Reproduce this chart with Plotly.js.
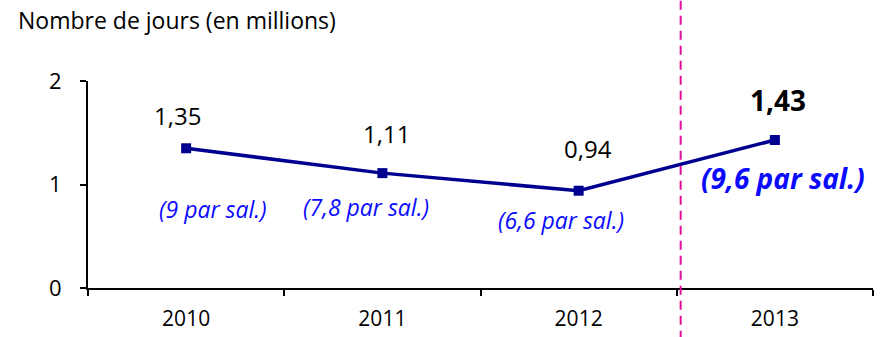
<!DOCTYPE html>
<html>
<head>
<meta charset="utf-8">
<script src="https://cdn.plot.ly/plotly-3.0.1.min.js"></script>
<style>html,body{margin:0;padding:0;background:#fff}#chart{width:883px;height:337px}</style>
</head>
<body>
<div id="chart"></div>
<script>
var years = ['2010', '2011', '2012', '2013'];
var jours = [1.35, 1.11, 0.94, 1.43];
var valueLabels = ['1,35', '1,11', '0,94', '1,43'];
var perSalLabels = ['(9 par sal.)', '(7,8 par sal.)', '(6,6 par sal.)', '(9,6 par sal.)'];
var yTicks = [0, 1, 2];
var titleText = 'Nombre de jours (en millions)';

var FONT = 'Open Sans, sans-serif';
var valShift = [[-9, 33], [4, 40], [9, 42], [3, 40]];
var salShift = [[27, -61], [-16, -34], [-18, -29], [8, -38]];

var annotations = [];
for (var i = 0; i < years.length; i++) {
  var last = i === years.length - 1;
  annotations.push({
    xref: 'x', yref: 'y', x: i, y: jours[i],
    xshift: valShift[i][0], yshift: valShift[i][1],
    text: last ? '<b>' + valueLabels[i] + '</b>' : valueLabels[i],
    showarrow: false,
    font: {family: FONT, size: last ? 28 : 24, color: '#000'}
  });
  annotations.push({
    xref: 'x', yref: 'y', x: i, y: jours[i],
    xshift: salShift[i][0], yshift: salShift[i][1],
    text: last ? '<b><i>' + perSalLabels[i] + '</i></b>' : '<i>' + perSalLabels[i] + '</i>',
    showarrow: false,
    font: {family: FONT, size: last ? 28 : 23, color: '#0a0aff'}
  });
}

var trace = {
  type: 'scatter', mode: 'lines+markers',
  x: years, y: jours,
  line: {color: '#000090', width: 3.5},
  marker: {symbol: 'square', size: 10, color: '#000090'},
  hoverinfo: 'skip'
};

var layout = {
  width: 883, height: 337,
  margin: {l: 88, r: 10, t: 81, b: 49},
  paper_bgcolor: '#fff', plot_bgcolor: '#fff',
  showlegend: false,
  title: {text: titleText, x: 18 / 883, xanchor: 'left', xref: 'container',
          y: 1 - 21 / 337, yanchor: 'middle', yref: 'container',
          font: {family: FONT, size: 23, color: '#000'}},
  xaxis: {
    type: 'category', range: [-0.5, 3.5], fixedrange: true,
    showline: true, linecolor: '#000', linewidth: 2,
    ticks: 'outside', tickson: 'boundaries', ticklen: 6, tickwidth: 2, tickcolor: '#000',
    showgrid: false, zeroline: false,
    tickfont: {family: FONT, size: 21, color: '#000'},
    ticklabelstandoff: 11
  },
  yaxis: {
    range: [0, 2], tickvals: yTicks, ticktext: yTicks.map(String), fixedrange: true,
    showline: true, linecolor: '#000', linewidth: 2,
    ticks: 'outside', ticklen: 6, tickwidth: 2, tickcolor: '#000',
    showgrid: false, zeroline: false,
    tickfont: {family: FONT, size: 22, color: '#000'},
    ticklabelstandoff: 14
  },
  shapes: [{
    type: 'line', xref: 'x', yref: 'paper',
    x0: 2.52, x1: 2.52, y0: -0.25, y1: 1.4,
    line: {color: '#e0109a', width: 2, dash: '9px,6px'}
  }],
  annotations: annotations
};

Plotly.newPlot('chart', [trace], layout, {displayModeBar: false, staticPlot: true});
</script>
</body>
</html>
